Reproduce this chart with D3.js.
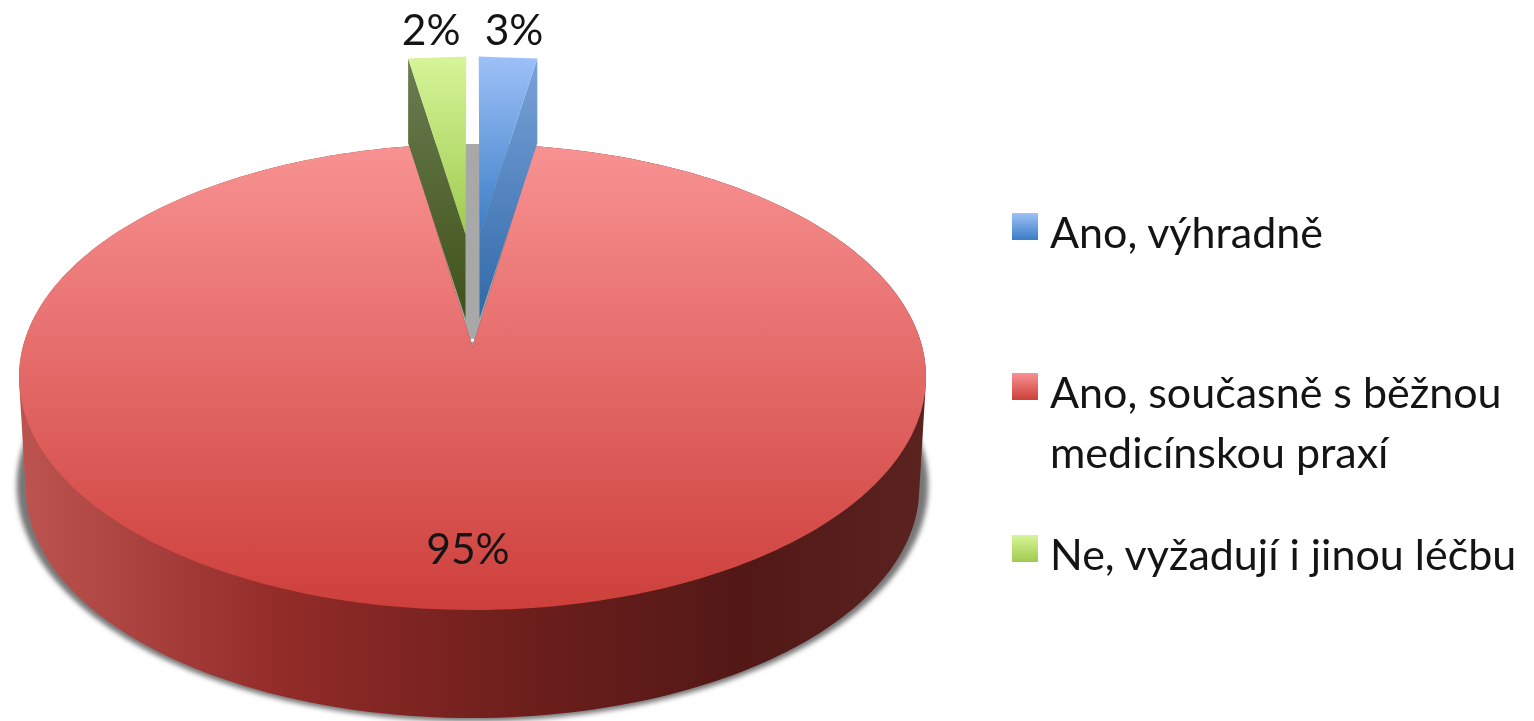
<!DOCTYPE html>
<html>
<head>
<meta charset="utf-8">
<script src="https://cdn.jsdelivr.net/npm/d3@7"></script>
<style>
  body { margin: 0; background: #fff; }
  svg { display: block; filter: blur(0.6px); }
  text { font-family: Lato, sans-serif; fill: #141414; }
</style>
</head>
<body>
<svg id="chart" width="1534" height="721"></svg>
<script>
const categories = ["Ano, výhradně", "Ano, současně s běžnou|medicínskou praxí", "Ne, vyžadují i jinou léčbu"];
const shares = [2.51, 95, 2.49];
const topColors = [["#9dc1f8", "#3a7dc6"], ["#f89292", "#cd3f3b"], ["#d6f598", "#a0ca50"]];
const wallColors = [["#7ba2d8", "#2f69a8"], null, ["#6b7d52", "#3f5218"]];

const svg = d3.select("#chart");
const defs = svg.append("defs");

function vGradient(id, stops) {
  const g = defs.append("linearGradient").attr("id", id).attr("x1", 0).attr("x2", 0).attr("y1", 0).attr("y2", 1);
  stops.forEach((c, i) => g.append("stop").attr("offset", i / (stops.length - 1)).attr("stop-color", c));
}
categories.forEach((c, i) => {
  vGradient("top" + i, topColors[i]);
  if (wallColors[i]) vGradient("wall" + i, wallColors[i]);
});

// side of the big slice darkens from left to right
const sideGrad = defs.append("linearGradient").attr("id", "side");
[[0, "#bd5450"], [0.3, "#912b28"], [0.55, "#6e1f1c"], [0.8, "#521816"], [1, "#5a2320"]].forEach(s =>
  sideGrad.append("stop").attr("offset", s[0]).attr("stop-color", s[1]));

defs.append("filter").attr("id", "blur").attr("x", "-5%").attr("y", "-5%").attr("width", "110%").attr("height", "110%")
  .append("feGaussianBlur").attr("stdDeviation", 2.5);

// perspective view of the pie plane
const k = 0.1288;
const cx = 472.5;
const planeTop = { y0: 347, a: 449.7, b: 229.1 };
const planeBottom = { y0: 459, a: 443, b: 225.7 };
const planeShadow = { y0: 455, a: 452, b: 232 };
const explode = 0.525;
const gapX = 0.0166;
const sliceRadius = 0.99;
const wallDepth = 84.5;

function project(plane, X, Z) {
  const w = 1 + k * Z;
  return [cx + plane.a * X / w, plane.y0 - plane.b * Z / w];
}

const arcs = d3.pie().sort(null)(shares);
const line = d3.line();

function rim(d, n) {
  return d3.range(n + 1).map(i => d.startAngle + (d.endAngle - d.startAngle) * i / n);
}

// big slice
const big = arcs[1];
const bigAngles = rim(big, 240);
const topRim = bigAngles.map(t => project(planeTop, Math.sin(t), Math.cos(t)));
const bottomRim = bigAngles.map(t => project(planeBottom, Math.sin(t), Math.cos(t)));
const shadowRim = bigAngles.map(t => project(planeShadow, Math.sin(t), Math.cos(t)));
const apex = project(planeTop, 0, 0);
const hull = d3.polygonHull(topRim.concat(bottomRim));

svg.append("path").attr("d", line(shadowRim) + "Z").attr("fill", "#777").attr("filter", "url(#blur)");
svg.append("path").attr("d", line(hull) + "Z").attr("fill", "url(#side)");

// notch left by the pulled out slices
const notchAngles = d3.range(0, 21).map(i => arcs[2].startAngle + (2 * Math.PI + arcs[0].endAngle - arcs[2].startAngle) * i / 20);
svg.append("path").attr("d", line(notchAngles.map(t => project(planeTop, Math.sin(t), Math.cos(t))).concat([apex])) + "Z")
  .attr("fill", "#a8a8a8");
svg.append("path").attr("d", line(topRim.concat([apex])) + "Z").attr("fill", "url(#top1)");
const tipDot = project(planeTop, 0, 0.03);
svg.append("circle").attr("cx", tipDot[0]).attr("cy", tipDot[1]).attr("r", 1.6).attr("fill", "#fff");

// pulled out slices
[0, 2].forEach(i => {
  const d = arcs[i];
  const side = i === 0 ? 1 : -1;
  const ux = side * gapX;
  const edge = rim(d, 1).map(t => project(planeTop, ux + sliceRadius * Math.sin(t), explode + sliceRadius * Math.cos(t)));
  const tip = project(planeTop, ux, explode);
  const outer = i === 0 ? edge[edge.length - 1] : edge[0];
  const wall = [tip, outer, [outer[0], outer[1] + wallDepth], [tip[0], tip[1] + wallDepth]];
  svg.append("path").attr("d", line(wall) + "Z").attr("fill", "url(#wall" + i + ")");
  svg.append("path").attr("d", line(edge.concat([tip])) + "Z").attr("fill", "url(#top" + i + ")");
  const mid = d3.mean(edge, p => p[0]) + side * 6;
  svg.append("text").attr("x", mid).attr("y", 45).attr("text-anchor", "middle")
    .attr("font-size", 42.5).text(d3.format(".0f")(shares[i]) + "%");
});

svg.append("text").attr("x", 468).attr("y", 564).attr("text-anchor", "middle")
  .attr("font-size", 42.5).text(d3.format(".0f")(shares[1]) + "%");

// legend
const legendRows = [248, 408, 570];
categories.forEach((c, i) => {
  svg.append("rect").attr("x", 1012).attr("y", legendRows[i] - 35).attr("width", 26).attr("height", 27)
    .attr("fill", "url(#top" + i + ")");
  c.split("|").forEach((t, j) => {
    svg.append("text").attr("x", 1050).attr("y", legendRows[i] + j * 60).attr("font-size", 43).text(t);
  });
});
</script>
</body>
</html>
